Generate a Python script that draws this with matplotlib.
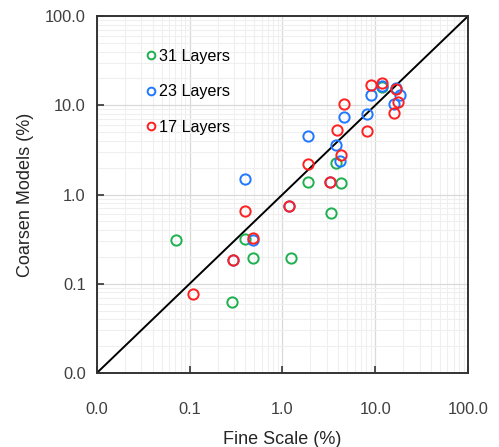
import numpy as np
import matplotlib
matplotlib.use("Agg")
import matplotlib.pyplot as plt
from matplotlib.ticker import FixedLocator, FuncFormatter, LogLocator, NullFormatter

# --- Data (fine scale %, coarsened model %) ---
green_x = [0.0705, 0.394, 0.477, 0.287, 1.24, 1.89, 3.30, 3.76, 4.23, 11.9]
green_y = [0.313, 0.318, 0.193, 0.063, 0.195, 1.37, 0.617, 2.25, 1.34, 16.0]

blue_x = [0.394, 0.483, 0.294, 1.18, 1.89, 3.24, 3.76, 4.16, 4.59, 8.18, 8.98, 11.8, 16.7, 18.4, 15.9]
blue_y = [1.50, 0.313, 0.185, 0.753, 4.59, 1.37, 3.61, 2.37, 7.36, 8.04, 12.9, 16.3, 15.7, 12.9, 10.4]

red_x = [0.109, 0.294, 0.477, 0.394, 1.18, 1.89, 3.24, 3.83, 4.23, 4.62, 8.18, 8.98, 11.9, 16.7, 17.8, 15.9]
red_y = [0.0769, 0.185, 0.324, 0.662, 0.753, 2.21, 1.37, 5.32, 2.74, 10.4, 5.09, 17.1, 17.7, 15.3, 10.8, 8.17]

series_labels = ["31 Layers", "23 Layers", "17 Layers"]
tick_values = [0.01, 0.1, 1, 10, 100]

GREEN = "#1DB04F"
BLUE = "#1F78FF"
RED = "#FF1F1F"

plt.rcParams["font.family"] = ["Liberation Sans", "DejaVu Sans"]

fig = plt.figure(figsize=(4.99, 4.47), dpi=100)
ax = fig.add_axes([0.194, 0.1655, 0.744, 0.7985])

ax.set_xscale("log")
ax.set_yscale("log")
ax.set_xlim(0.01, 100)
ax.set_ylim(0.01, 100)

# 1:1 line
ax.plot([0.01, 100], [0.01, 100], color="black", lw=1.4, zorder=2)

ms = 7.4
mew = 1.4
for xs, ys, c, lab in [(green_x, green_y, GREEN, series_labels[0]),
                       (blue_x, blue_y, BLUE, series_labels[1]),
                       (red_x, red_y, RED, series_labels[2])]:
    ax.plot(xs, ys, linestyle="none", marker="o", markersize=ms,
            markerfacecolor="none", markeredgecolor=c, markeredgewidth=mew,
            label=lab, zorder=3)

for axis in (ax.xaxis, ax.yaxis):
    axis.set_major_locator(FixedLocator(tick_values))
    axis.set_major_formatter(FuncFormatter(lambda v, p: f"{v:.1f}"))
    axis.set_minor_locator(LogLocator(base=10, subs=np.arange(2, 10)))
    axis.set_minor_formatter(NullFormatter())

ax.grid(True, which="major", color="#d9d9d9", lw=0.9, zorder=0)
ax.grid(True, which="minor", color="#efefef", lw=0.8, zorder=0)
ax.set_axisbelow(True)

ax.tick_params(which="major", direction="in", length=5, width=1.2,
               labelsize=11.8, colors="#333333", labelcolor="#404040")
ax.tick_params(axis="x", which="major", pad=21)
ax.tick_params(axis="y", which="major", pad=8)
ax.tick_params(which="minor", length=0)
for s in ax.spines.values():
    s.set_linewidth(1.4)
    s.set_color("#333333")

ax.set_xlabel("Fine Scale (%)", fontsize=13, color="#262626", labelpad=10)
ax.set_ylabel("Coarsen Models (%)", fontsize=13, color="#262626", labelpad=8)

leg = ax.legend(loc="upper left", bbox_to_anchor=(0.116, 0.926), frameon=False,
                fontsize=11.6, markerscale=0.75, handlelength=0.6,
                handletextpad=0.2, labelspacing=1.27, borderaxespad=0)

fig.savefig("out.png", dpi=100)
